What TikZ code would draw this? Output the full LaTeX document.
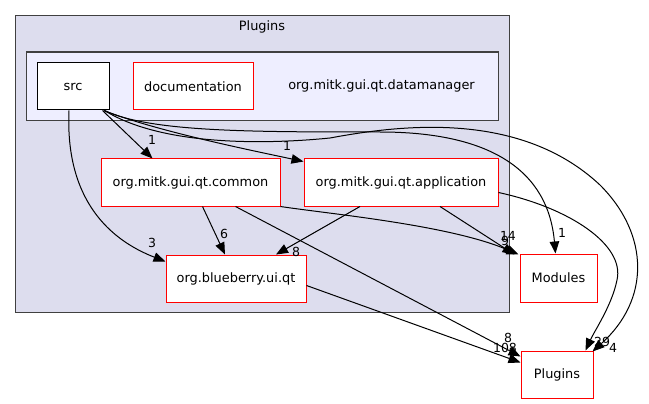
\documentclass[tikz,border=0pt]{standalone}
\usepackage{fontspec}
\setmainfont{DejaVu Sans}
\usetikzlibrary{arrows.meta}
\definecolor{clusterfill}{HTML}{DDDDEE}
\definecolor{innerfill}{HTML}{EEEEFF}
\definecolor{clusterline}{HTML}{404040}
\tikzset{
  dirbox/.style={draw=red, fill=white, line width=1pt, minimum height=47pt, inner sep=0pt, font=\fontsize{12.9}{15}\selectfont},
  srcbox/.style={draw=black, fill=white, line width=1pt, minimum height=47pt, inner sep=0pt, font=\fontsize{12.9}{15}\selectfont},
  dep/.style={draw=black, line width=1pt, -{Triangle[length=12pt,width=9.5pt]}},
  cnt/.style={font=\fontsize{12.5}{14}\selectfont, inner sep=0pt},
  clabel/.style={font=\fontsize{12.9}{15}\selectfont, inner sep=0pt},
}
\begin{document}
\begin{tikzpicture}[x=1pt,y=-1pt]
\useasboundingbox (0,0) rectangle (649,404);
% clusters
\draw[clusterline, fill=clusterfill, line width=1.2pt] (15.5,15.5) rectangle (509.5,312.5);
\node[clabel] (plugclusterlabel) at (262,27) {Plugins};
\draw[clusterline, fill=innerfill, line width=1.2pt] (26.5,52) rectangle (498.5,120.5);
\node[clabel] (dmlabel) at (381.5,86) {org.mitk.gui.qt.datamanager};
% nodes
\node[srcbox, minimum width=72pt] (src) at (73,86.5) {src};
\node[dirbox, minimum width=120pt] (doc) at (193,86.5) {documentation};
\node[dirbox, minimum width=179pt] (common) at (190.5,182.5) {org.mitk.gui.qt.common};
\node[dirbox, minimum width=194pt] (app) at (401,182.5) {org.mitk.gui.qt.application};
\node[dirbox, minimum width=140pt] (blue) at (236,278.5) {org.blueberry.ui.qt};
\node[dirbox, minimum width=77pt, minimum height=48pt] (mods) at (558.5,278) {Modules};
\node[dirbox, minimum width=72pt] (plug) at (557,374.5) {Plugins};
% edges
\draw[dep] ([xshift=-7pt]src.south east) -- ([xshift=-38pt]common.north);
\node[cnt] (l1) at (152,140) {1};
\draw[dep] ([xshift=-6pt]src.south east) .. controls (160,132) and (250,150) .. ([yshift=-3pt]app.north west);
\node[cnt] (l2) at (287,146) {1};
\draw[dep] ([xshift=-4pt]src.south) .. controls (65,200) and (110,240) .. ([yshift=-7pt]blue.north west);
\node[cnt] (l3) at (152,243) {3};
\draw[dep] ([xshift=-5pt]src.south east) .. controls (150,132) and (250,132) .. (380,132) .. controls (490,132) and (548,170) .. ([xshift=-3pt]mods.north);
\node[cnt] (l4) at (562,233) {1};
\draw[dep] ([xshift=-5pt]src.south east) .. controls (160,145) and (260,145) .. (330,138) .. controls (400,125) and (520,110) .. (600,185) .. controls (650,235) and (650,300) .. ([xshift=-1pt,yshift=-1pt]plug.north east);
\node[cnt] (l5) at (613,348) {4};
\draw[dep] ([xshift=12pt]common.south) -- ([xshift=-11pt]blue.north);
\node[cnt] (l6) at (224,234) {6};
\draw[dep] (common.south east) .. controls (330,214) and (450,225) .. ([xshift=-1pt,yshift=-1pt]mods.north west);
\node[cnt] (l7) at (505,241) {9};
\draw[dep] ([xshift=45pt]common.south) -- ([yshift=-6pt]plug.north west);
\node[cnt] (l8) at (508,338) {8};
\draw[dep] ([xshift=-41pt]app.south) -- ([xshift=40pt]blue.north);
\node[cnt] (l9) at (296,252) {8};
\draw[dep] ([xshift=39pt]app.south) -- ([xshift=-5pt,yshift=-1pt]mods.north west);
\node[cnt] (l10) at (508,236) {14};
\draw[dep] ([yshift=-10pt]app.east) .. controls (570,208) and (625,245) .. (617,280) .. controls (612,305) and (595,330) .. ([xshift=-8pt]plug.north east);
\node[cnt] (l11) at (602,342) {29};
\draw[dep] ([yshift=-7pt]blue.east) -- ([yshift=-12pt]plug.north west);
\node[cnt] (l12) at (505,348) {108};
\end{tikzpicture}
\end{document}
